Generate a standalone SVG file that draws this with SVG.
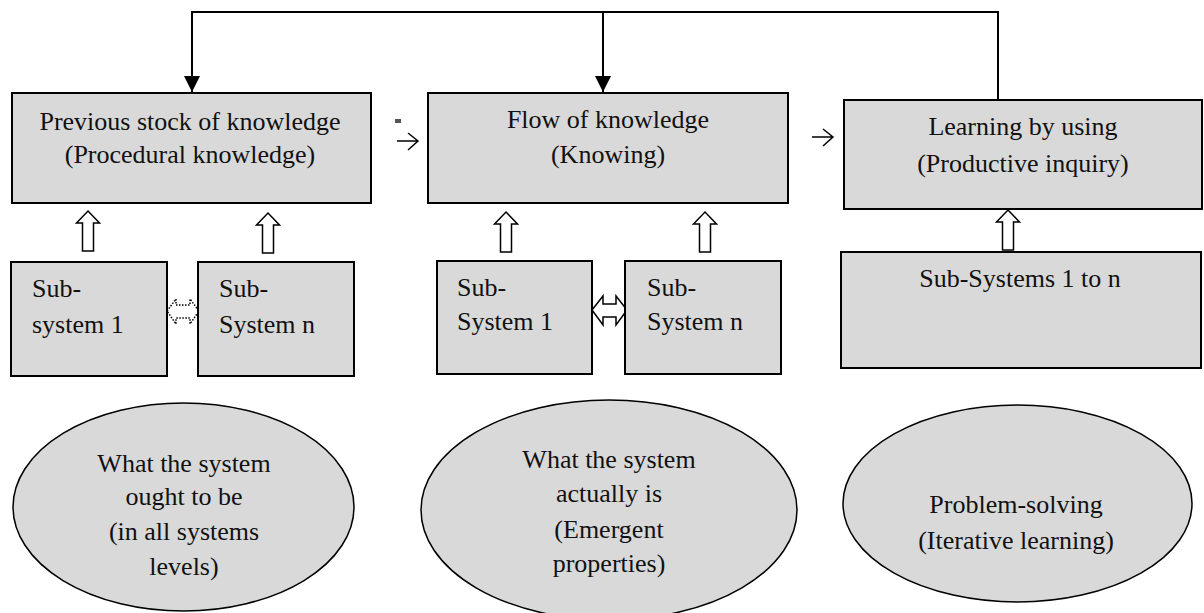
<svg xmlns="http://www.w3.org/2000/svg" width="1204" height="613" viewBox="0 0 1204 613">
<style>
.box{fill:#d9d9d9;stroke:#000;stroke-width:2}
.ell{fill:#d9d9d9;stroke:#000;stroke-width:1.5}
.t{font-family:"Liberation Serif","Times New Roman",serif;font-size:26px;fill:#111}
.c{text-anchor:middle}
.ln{fill:none;stroke:#000;stroke-width:2}
.thin{fill:none;stroke:#000;stroke-width:1.5}
.hollow{fill:#fff;stroke:#000;stroke-width:1.5}
.dotted{fill:#fff;stroke:#000;stroke-width:1.5;stroke-dasharray:1.5 1.5}
</style>
<defs>
<marker id="tri" markerWidth="16" markerHeight="16" viewBox="0 0 16 16" refX="16" refY="8" orient="auto" markerUnits="userSpaceOnUse">
<path d="M0,0 L16,8 L0,16 Z" fill="#000"/>
</marker>
<path id="up" d="M0,0 L11.5,12 L5.5,12 L5.5,40 L-5.5,40 L-5.5,12 L-11.5,12 Z"/>
</defs>
<rect width="1204" height="613" fill="#fff"/>

<g id="connectors">
<path class="ln" d="M998,100 L998,12 L192,12 L192,92" marker-end="url(#tri)"/>
<path class="ln" d="M603,12 L603,92" marker-end="url(#tri)"/>
<path class="thin" d="M397,141 L418,141 M408,133 L418,141 L408,150"/>
<rect x="395" y="119" width="6" height="4" fill="#555"/>
<path class="thin" d="M812,137 L833,137 M823,129 L833,137 L823,146"/>
<use href="#up" class="hollow" x="88" y="211"/>
<use href="#up" class="hollow" x="268" y="213"/>
<use href="#up" class="hollow" x="506" y="212"/>
<use href="#up" class="hollow" x="705" y="212"/>
<use href="#up" class="hollow" x="1008" y="210"/>
<path class="hollow" d="M592,310 L603,296 L603,304 L616,304 L616,296 L627,310 L616,325 L616,317 L603,317 L603,325 Z"/>
<path class="dotted" d="M167,311 L176,299 L176,305 L190,305 L190,299 L199,311 L190,324 L190,318 L176,318 L176,324 Z"/>
</g>

<g id="node-previous-stock">
<rect class="box" x="12" y="93" width="359" height="110"/>
<text class="t c" x="190" y="130">Previous stock of knowledge</text>
<text class="t c" x="190" y="163">(Procedural knowledge)</text>
</g>
<g id="node-flow">
<rect class="box" x="428" y="93" width="360" height="110"/>
<text class="t c" x="608" y="128">Flow of knowledge</text>
<text class="t c" x="608" y="163">(Knowing)</text>
</g>
<g id="node-learning">
<rect class="box" x="844" y="100" width="358" height="109"/>
<text class="t c" x="1023" y="135">Learning by using</text>
<text class="t c" x="1023" y="172">(Productive inquiry)</text>
</g>

<g id="node-sub1-left">
<rect class="box" x="11" y="262" width="156" height="114"/>
<text class="t" x="32" y="297">Sub-</text>
<text class="t" x="32" y="333">system 1</text>
</g>
<g id="node-subn-left">
<rect class="box" x="198" y="262" width="156" height="114"/>
<text class="t" x="219" y="297">Sub-</text>
<text class="t" x="219" y="333">System n</text>
</g>
<g id="node-sub1-mid">
<rect class="box" x="437" y="261" width="155" height="113"/>
<text class="t" x="457" y="296">Sub-</text>
<text class="t" x="457" y="330">System 1</text>
</g>
<g id="node-subn-mid">
<rect class="box" x="625" y="261" width="156" height="113"/>
<text class="t" x="647" y="296">Sub-</text>
<text class="t" x="647" y="330">System n</text>
</g>
<g id="node-subs-right">
<rect class="box" x="841" y="252" width="360" height="116"/>
<text class="t c" x="1020" y="287">Sub-Systems 1 to n</text>
</g>

<g id="node-ought">
<ellipse class="ell" cx="183.5" cy="507" rx="170.5" ry="104"/>
<text class="t c" x="184" y="472">What the system</text>
<text class="t c" x="184" y="505">ought to be</text>
<text class="t c" x="184" y="540">(in all systems</text>
<text class="t c" x="184" y="575">levels)</text>
</g>
<g id="node-actually">
<ellipse class="ell" cx="609" cy="510" rx="188" ry="110"/>
<text class="t c" x="609" y="468">What the system</text>
<text class="t c" x="609" y="502">actually is</text>
<text class="t c" x="609" y="538">(Emergent</text>
<text class="t c" x="609" y="572">properties)</text>
</g>
<g id="node-problem">
<ellipse class="ell" cx="1017.5" cy="503.5" rx="174.5" ry="98.5"/>
<text class="t c" x="1016" y="513">Problem-solving</text>
<text class="t c" x="1016" y="549">(Iterative learning)</text>
</g>
</svg>
